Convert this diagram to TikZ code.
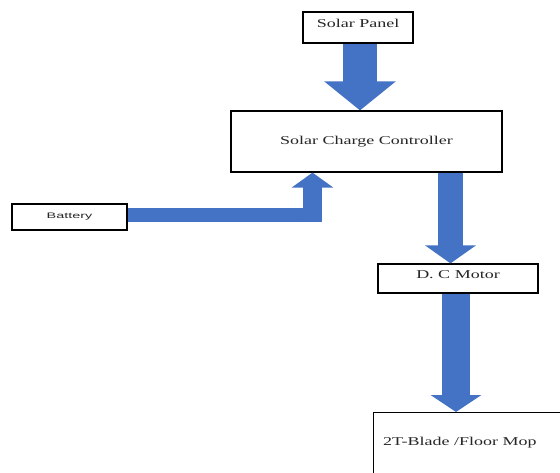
\documentclass[tikz,border=0pt]{standalone}
\usepackage{fontspec}
\setmainfont{Liberation Serif}[FakeStretch=1.5]
\newfontfamily\batfont{Liberation Sans}[FakeStretch=1.8]
\usetikzlibrary{arrows.meta,calc}
\definecolor{arrowblue}{HTML}{4472C4}
\definecolor{txtgray}{HTML}{262626}
\tikzset{
  boxnode/.style={draw=black, line width=1.2pt, rectangle, inner sep=0pt, font=\fontsize{12}{14}\selectfont, text=txtgray},
  blockarrow/.style={draw=arrowblue, line cap=butt},
}
\begin{document}
\begin{tikzpicture}[x=1pt,y=-1pt]
\useasboundingbox (0,0) rectangle (560,472);
% nodes
\node[boxnode, minimum width=110pt, minimum height=31pt] (sp) at (358,27.5) {\raisebox{8pt}{Solar Panel}};
\node[boxnode, minimum width=271pt, minimum height=61pt] (scc) at (366.5,141.5) {\raisebox{-4pt}{Solar Charge Controller}};
\node[boxnode, minimum width=115pt, minimum height=26pt, font=\batfont\fontsize{8}{10}\selectfont] (bat) at (69.5,217) {\raisebox{2pt}{Battery}};
\node[boxnode, minimum width=160pt, minimum height=29pt] (dcm) at (458,278.5) {\raisebox{8pt}{D. C Motor}};
\node[boxnode, anchor=north west, minimum width=230pt, minimum height=90pt] (mop) at (373,412) {};
\node[font=\fontsize{12}{14}\selectfont, text=txtgray, anchor=west, inner sep=0pt] (moplbl) at (383,443) {2T-Blade /Floor Mop};
% arrows
\draw[blockarrow, line width=34pt, -{Triangle[width=70pt,length=29pt]}] ([xshift=2pt]sp.south) -- ([xshift=2pt]sp.south |- scc.north);
\coordinate (bend) at (312.5,215);
\draw[blockarrow, line width=14pt] (bat.east |- bend) -- ([xshift=9.5pt]bend);
\draw[blockarrow, line width=19pt, -{Triangle[width=41pt,length=15pt]}] ([yshift=-7pt]bend) -- (bend |- scc.south);
\draw[blockarrow, line width=25pt, -{Triangle[width=50pt,length=18pt]}] ([xshift=84pt]scc.south) -- ([xshift=-7.5pt]dcm.north);
\draw[blockarrow, line width=28pt, -{Triangle[width=50pt,length=17pt]}] ([xshift=-2pt]dcm.south) -- ([xshift=-2pt]dcm.south |- mop.north);
\end{tikzpicture}
\end{document}
